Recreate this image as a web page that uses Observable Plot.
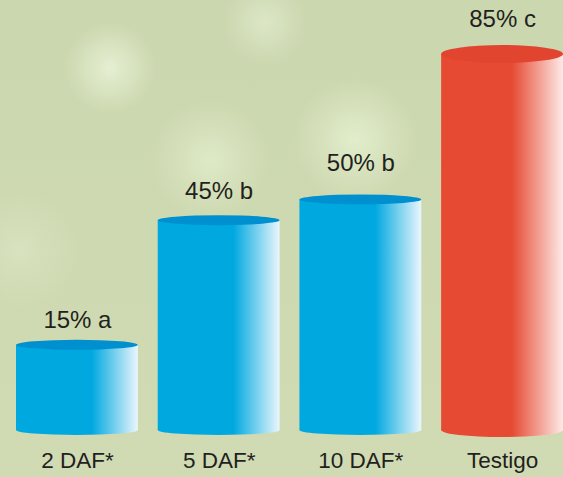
<!DOCTYPE html>
<html><head><meta charset="utf-8">
<script src="https://cdn.jsdelivr.net/npm/d3@7"></script>
<script src="https://cdn.jsdelivr.net/npm/@observablehq/plot@0.6"></script>
<style>body{margin:0;background:#ccd8ae;}</style>
</head><body><div id="chart"></div>
<script>
const categories = ["2 DAF*", "5 DAF*", "10 DAF*", "Testigo"];
const values = [15, 45, 50, 85];
const letters = ["a", "b", "b", "c"];
const isControl = [false, false, false, true];

// styling: vertical offset of each value label above its bar top
const labelDy = [-17, -22, -29, -28];

const BASE = -5.5;
const data = categories.map((c, i) => ({
  cat: c, value: values[i], label: `${values[i]}% ${letters[i]}`, control: isControl[i]
}));

const defsMark = () => {
  const defs = d3.create("svg:defs");
  const mk = (id, c, end, start) => {
    const lg = defs.append("linearGradient").attr("id", id).attr("x1", 0).attr("x2", 1).attr("y1", 0).attr("y2", 0);
    lg.append("stop").attr("offset", 0).attr("stop-color", c);
    lg.append("stop").attr("offset", start).attr("stop-color", c);
    lg.append("stop").attr("offset", 1).attr("stop-color", end);
  };
  mk("gBlue", "#00a8e0", "#eaf6fd", 0.62);
  mk("gRed", "#e64a33", "#fdeae6", 0.58);
  return defs.node();
};

const ellipses = (which) => (index, scales) => {
  const g = d3.create("svg:g");
  const xs = scales.x, ys = scales.y;
  const bw = typeof xs.bandwidth === "function" ? xs.bandwidth() : xs.bandwidth;
  for (const d of data) {
    const cx = xs(d.cat) + bw / 2;
    if (which === "bottom") {
      const ry = d.control ? 7 : 5;
      g.append("ellipse").attr("cx", cx).attr("cy", ys(BASE)).attr("rx", bw / 2).attr("ry", ry)
        .attr("fill", d.control ? "url(#gRed)" : "url(#gBlue)");
    } else {
      const ry = d.control ? 9 : 5;
      g.append("ellipse").attr("cx", cx).attr("cy", ys(d.value)).attr("rx", bw / 2).attr("ry", ry)
        .attr("fill", d.control ? "#e2452f" : "#0090cf");
    }
  }
  return g.node();
};

const chart = Plot.plot({
  width: 563,
  height: 477,
  marginLeft: 16,
  marginRight: 0,
  marginTop: 54,
  marginBottom: 47,
  style: {
    fontFamily: "'Liberation Sans', Arial, Helvetica, sans-serif",
    fontSize: "22.5px",
    color: "#231f20",
    background: [
      "radial-gradient(circle at 110px 68px, rgba(230,240,212,0.95) 0, rgba(230,240,212,0) 46px)",
      "radial-gradient(circle at 265px 22px, rgba(224,234,205,0.8) 0, rgba(224,234,205,0) 42px)",
      "radial-gradient(circle at 210px 160px, rgba(225,236,203,0.85) 0, rgba(225,236,203,0) 60px)",
      "radial-gradient(circle at 355px 140px, rgba(227,238,205,0.95) 0, rgba(227,238,205,0) 62px)",
      "radial-gradient(circle at 20px 250px, rgba(222,232,200,0.6) 0, rgba(222,232,200,0) 60px)",
      "linear-gradient(#cbd7ae, #d0dbb3)"
    ].join(",")
  },
  x: {domain: categories, paddingInner: 0.14, paddingOuter: 0, round: false, axis: "bottom", tickSize: 0, tickPadding: 22, label: null},
  y: {domain: [BASE, 85], axis: null},
  marks: [
    defsMark,
    ellipses("bottom"),
    Plot.barY(data, {filter: d => !d.control, x: "cat", y1: () => BASE, y2: "value", fill: "url(#gBlue)"}),
    Plot.barY(data, {filter: d => d.control, x: "cat", y1: () => BASE, y2: "value", fill: "url(#gRed)"}),
    ellipses("top"),
    ...categories.map((c, i) => Plot.text(data, {
      filter: d => d.cat === c, x: "cat", y: "value", text: "label",
      dy: labelDy[i], lineAnchor: "bottom", fontSize: 24, fill: "#231f20"
    }))
  ]
});
document.getElementById("chart").appendChild(chart);
</script>
</body></html>
